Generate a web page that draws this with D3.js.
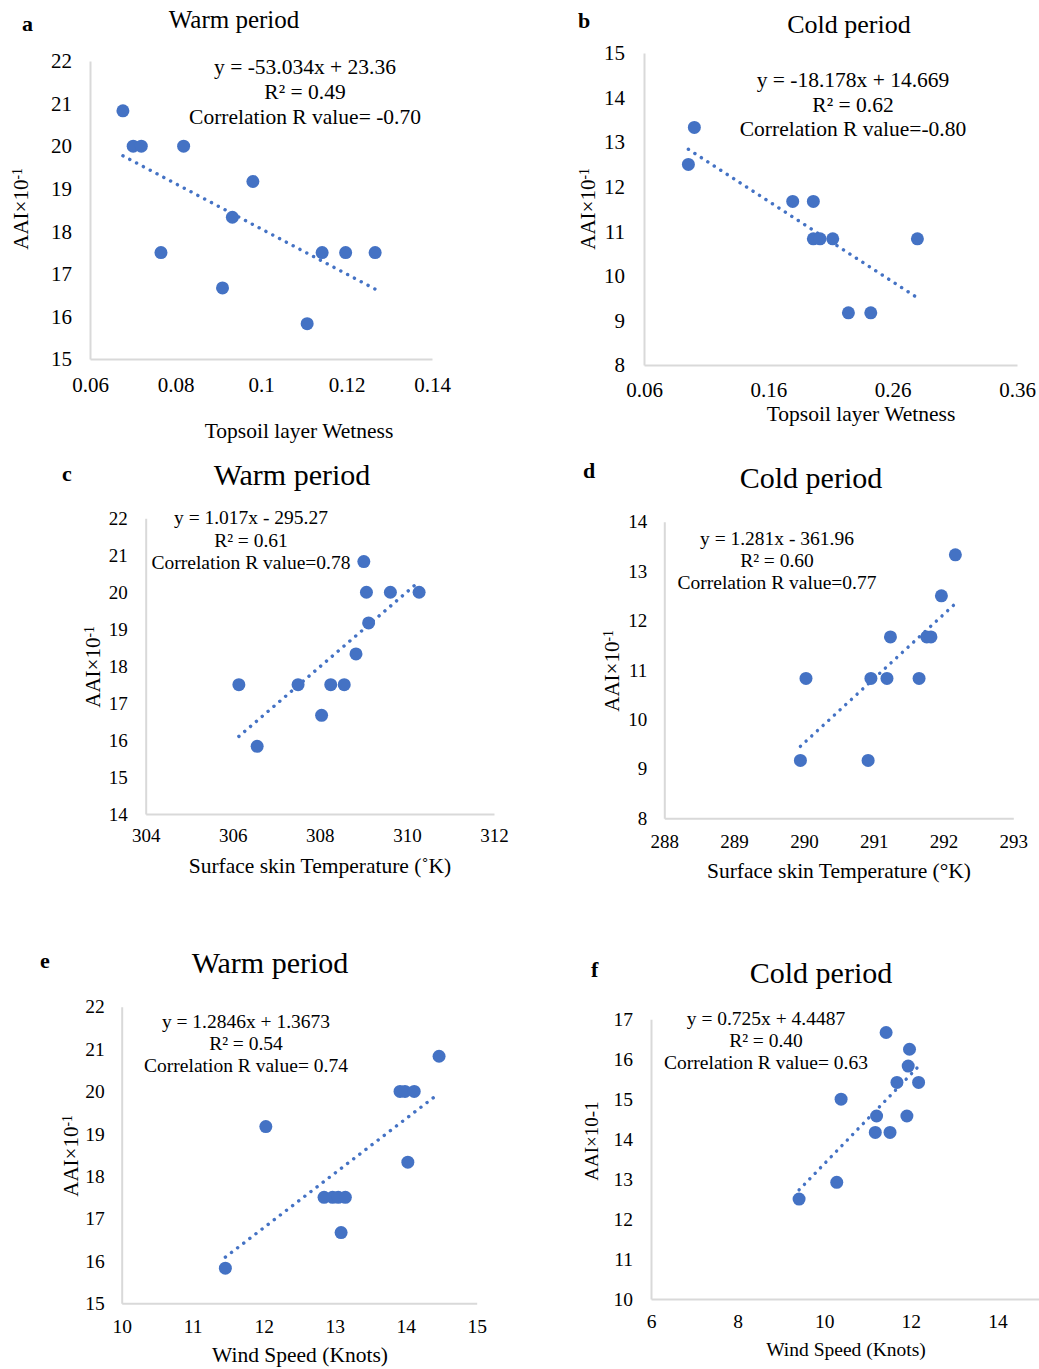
<!DOCTYPE html>
<html>
<head>
<meta charset="utf-8">
<script src="https://cdn.jsdelivr.net/npm/d3@7"></script>
<style>
  body { margin: 0; background: #fff; }
  svg { display: block; font-family: "Liberation Serif", "Times New Roman", serif; }
  .axis path { stroke: #d9d9d9; stroke-width: 2; fill: none; }
  .axis text { fill: #000; font-family: "Liberation Serif", "Times New Roman", serif; }
</style>
</head>
<body>
<svg id="chart" width="1039" height="1369"></svg>
<script>
// --- data ---
// a: warm period, topsoil wetness
const warmWetX = [0.0677, 0.0701, 0.0720, 0.0819, 0.0981, 0.0933, 0.0766, 0.1143, 0.1198, 0.1267, 0.0910, 0.1108];
const warmWetY = [20.83, 20.00, 20.00, 20.00, 19.17, 18.33, 17.50, 17.50, 17.50, 17.50, 16.67, 15.83];
// b: cold period, topsoil wetness
const coldWetX = [0.1005, 0.0957, 0.1796, 0.1962, 0.1962, 0.2016, 0.2118, 0.2799, 0.2244, 0.2424];
const coldWetY = [13.33, 12.50, 11.67, 11.67, 10.83, 10.83, 10.83, 10.83, 9.17, 9.17];
// c: warm period, surface skin temperature
const warmTempX = [309.01, 309.07, 309.62, 310.28, 309.12, 308.83, 306.14, 307.50, 308.25, 308.56, 308.04, 306.56];
const warmTempY = [20.83, 20.00, 20.00, 20.00, 19.17, 18.33, 17.50, 17.50, 17.50, 17.50, 16.67, 15.83];
// d: cold period, surface skin temperature
const coldTempX = [292.17, 291.97, 291.24, 291.76, 291.82, 290.03, 290.96, 291.19, 291.65, 289.95, 290.92];
const coldTempY = [13.33, 12.50, 11.67, 11.67, 11.67, 10.83, 10.83, 10.83, 10.83, 9.17, 9.17];
// e: warm period, wind speed
const warmWindX = [14.47, 13.92, 13.99, 14.12, 12.03, 14.03, 12.85, 12.97, 13.05, 13.15, 13.09, 11.46];
const warmWindY = [20.83, 20.00, 20.00, 20.00, 19.17, 18.33, 17.50, 17.50, 17.50, 17.50, 16.67, 15.83];
// f: cold period, wind speed
const coldWindX = [11.43, 11.97, 11.94, 11.68, 12.18, 10.39, 11.21, 11.91, 11.18, 11.52, 10.29, 9.42];
const coldWindY = [16.67, 16.25, 15.83, 15.42, 15.42, 15.00, 14.58, 14.58, 14.17, 14.17, 12.92, 12.50];

// tick values
const wetXTicksA = [0.06, 0.08, 0.1, 0.12, 0.14];
const wetXTicksB = [0.06, 0.16, 0.26, 0.36];
const tempXTicksC = [304, 306, 308, 310, 312];
const tempXTicksD = [288, 289, 290, 291, 292, 293];
const windXTicksE = [10, 11, 12, 13, 14, 15];
const windXTicksF = [6, 8, 10, 12, 14];
const yTicksA = [15, 16, 17, 18, 19, 20, 21, 22];
const yTicksB = [8, 9, 10, 11, 12, 13, 14, 15];
const yTicksC = [14, 15, 16, 17, 18, 19, 20, 21, 22];
const yTicksD = [8, 9, 10, 11, 12, 13, 14];
const yTicksE = [15, 16, 17, 18, 19, 20, 21, 22];
const yTicksF = [10, 11, 12, 13, 14, 15, 16, 17];

// text
const letters = ['a', 'b', 'c', 'd', 'e', 'f'];
const titles = ['Warm period', 'Cold period', 'Warm period', 'Cold period', 'Warm period', 'Cold period'];
const equations = [
  ['y = -53.034x + 23.36', 'R² = 0.49', 'Correlation R value= -0.70'],
  ['y = -18.178x + 14.669', 'R² = 0.62', 'Correlation R value=-0.80'],
  ['y = 1.017x - 295.27', 'R² = 0.61', 'Correlation R value=0.78'],
  ['y = 1.281x - 361.96', 'R² = 0.60', 'Correlation R value=0.77'],
  ['y = 1.2846x + 1.3673', 'R² = 0.54', 'Correlation R value= 0.74'],
  ['y = 0.725x + 4.4487', 'R² = 0.40', 'Correlation R value= 0.63']
];
const xTitles = ['Topsoil layer Wetness', 'Topsoil layer Wetness', 'Surface skin Temperature (˚K)',
  'Surface skin Temperature (°K)', 'Wind Speed (Knots)', 'Wind Speed (Knots)'];

const blue = '#4472C4';

// layout of the six panels
const panels = [
  { x: warmWetX, y: warmWetY, xd: [0.06, 0.14], xt: wetXTicksA, yd: [15, 22], yt: yTicksA,
    box: [90, 432, 61, 359], fTick: 21, padX: 18, padY: 18,
    letter: [22, 31], title: [234, 28, 25], eq: [305, 74, 25, 21.5],
    xTitle: [299, 438, 21.5], yTitle: [28, 209, 21], sup: true },
  { x: coldWetX, y: coldWetY, xd: [0.06, 0.36], xt: wetXTicksB, yd: [8, 15], yt: yTicksB,
    box: [644, 1017, 53, 365], fTick: 21, padX: 17, padY: 19,
    letter: [578, 28], title: [849, 33, 26], eq: [853, 87, 24.5, 21.5],
    xTitle: [861, 421, 21.5], yTitle: [595, 209, 21], sup: true },
  { x: warmTempX, y: warmTempY, xd: [304, 312], xt: tempXTicksC, yd: [14, 22], yt: yTicksC,
    box: [145.7, 494, 518.3, 814], fTick: 19, padX: 15, padY: 18,
    letter: [62, 481], title: [292, 485, 30], eq: [251, 524, 22.5, 19.5],
    xTitle: [320, 873, 21.5], yTitle: [100, 667, 21], sup: true },
  { x: coldTempX, y: coldTempY, xd: [288, 293], xt: tempXTicksD, yd: [8, 14], yt: yTicksD,
    box: [664.3, 1013.3, 521.7, 818.3], fTick: 19, padX: 16, padY: 17,
    letter: [583, 478], title: [811, 488, 30], eq: [777, 545, 22, 19.5],
    xTitle: [839, 878, 21.5], yTitle: [619, 671, 21], sup: true },
  { x: warmWindX, y: warmWindY, xd: [10, 15], xt: windXTicksE, yd: [15, 22], yt: yTicksE,
    box: [121.7, 476.7, 1006.7, 1303.3], fTick: 19.5, padX: 16, padY: 17,
    letter: [40, 968], title: [270, 973, 30], eq: [246, 1028, 22, 19.5],
    xTitle: [300, 1362, 21.5], yTitle: [78, 1156, 21], sup: true },
  { x: coldWindX, y: coldWindY, xd: [6, 16], xt: windXTicksF, yd: [10, 17], yt: yTicksF,
    box: [651, 1084, 1019.3, 1299], fTick: 19.5, padX: 15, padY: 18,
    letter: [591, 977], title: [821, 983, 30], eq: [766, 1025, 22, 19.5],
    xTitle: [846, 1356, 19.5], yTitle: [598, 1141, 19], sup: false }
];

// least squares linear trend
function linearFit(xs, ys) {
  const mx = d3.mean(xs), my = d3.mean(ys);
  const sxy = d3.sum(xs, (v, i) => (v - mx) * (ys[i] - my));
  const sxx = d3.sum(xs, v => (v - mx) * (v - mx));
  const m = sxy / sxx;
  return { m: m, b: my - m * mx };
}

const svg = d3.select('#chart');

panels.forEach((p, k) => {
  const [l, r, t, b] = p.box;
  const x = d3.scaleLinear().domain(p.xd).range([l, r]);
  const y = d3.scaleLinear().domain(p.yd).range([b, t]);
  const g = svg.append('g');

  // axes
  g.append('g')
    .attr('class', 'axis')
    .attr('transform', `translate(0,${b})`)
    .call(d3.axisBottom(x).tickValues(p.xt).tickSize(0).tickPadding(p.padX).tickFormat(d => String(d)))
    .call(s => s.selectAll('text').style('font-size', p.fTick + 'px'));

  g.append('g')
    .attr('class', 'axis')
    .attr('transform', `translate(${l},0)`)
    .call(d3.axisLeft(y).tickValues(p.yt).tickSize(0).tickPadding(p.padY).tickFormat(d => String(d)))
    .call(s => s.selectAll('text').style('font-size', p.fTick + 'px'));

  // trendline (dotted)
  const fit = linearFit(p.x, p.y);
  const ext = d3.extent(p.x);
  g.append('path')
    .datum(ext)
    .attr('d', d3.line().x(d => x(d)).y(d => y(fit.m * d + fit.b)))
    .attr('fill', 'none')
    .attr('stroke', blue)
    .attr('stroke-width', 3.4)
    .attr('stroke-linecap', 'round')
    .attr('stroke-dasharray', '0.1,7.6');

  // points
  g.selectAll('circle')
    .data(p.x.map((v, i) => [v, p.y[i]]))
    .join('circle')
    .attr('cx', d => x(d[0]))
    .attr('cy', d => y(d[1]))
    .attr('r', 6.5)
    .attr('fill', blue);

  // panel letter
  g.append('text')
    .attr('x', p.letter[0]).attr('y', p.letter[1])
    .style('font-size', '22px').style('font-weight', 'bold')
    .text(letters[k]);

  // title
  g.append('text')
    .attr('x', p.title[0]).attr('y', p.title[1])
    .attr('text-anchor', 'middle')
    .style('font-size', p.title[2] + 'px')
    .text(titles[k]);

  // equation block
  equations[k].forEach((line, i) => {
    g.append('text')
      .attr('x', p.eq[0]).attr('y', p.eq[1] + i * p.eq[2])
      .attr('text-anchor', 'middle')
      .style('font-size', p.eq[3] + 'px')
      .text(line);
  });

  // x title
  g.append('text')
    .attr('x', p.xTitle[0]).attr('y', p.xTitle[1])
    .attr('text-anchor', 'middle')
    .style('font-size', p.xTitle[2] + 'px')
    .text(xTitles[k]);

  // y title
  const yt = g.append('text')
    .attr('transform', `translate(${p.yTitle[0]},${p.yTitle[1]}) rotate(-90)`)
    .attr('text-anchor', 'middle')
    .style('font-size', p.yTitle[2] + 'px');
  if (p.sup) {
    yt.append('tspan').text('AAI×10');
    yt.append('tspan').attr('dy', '-0.45em').style('font-size', '0.65em').text('-1');
  } else {
    yt.text('AAI×10-1');
  }
});
</script>
</body>
</html>
